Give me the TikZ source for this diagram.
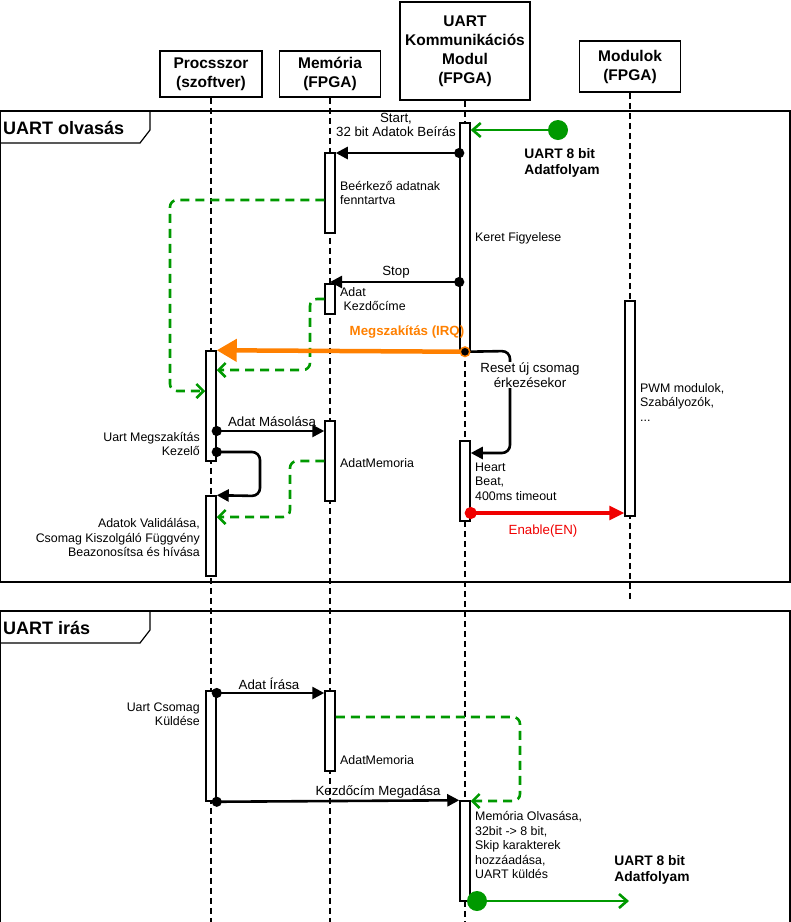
\documentclass[tikz,border=0pt]{standalone}
\usepackage{fontspec}
\setmainfont{Liberation Sans}
\usetikzlibrary{arrows.meta}
\definecolor{flowgreen}{RGB}{0,153,0}
\definecolor{irqorange}{RGB}{255,128,0}
\definecolor{enred}{RGB}{240,0,0}
\newcommand\hdfont{\fontsize{15.5pt}{19pt}\selectfont\bfseries}
\newcommand\msgfont{\fontsize{13.3pt}{14.5pt}\selectfont}
\newcommand\ntfont{\fontsize{12.4pt}{14.5pt}\selectfont}
\newcommand\frfont{\fontsize{18pt}{20pt}\selectfont\bfseries}
\begin{document}
\begin{tikzpicture}[x=1pt,y=-1pt,
        head/.style={draw,fill=white,line width=1.6pt,align=center,font=\hdfont,inner sep=0pt},
        bar/.style={draw,fill=white,line width=1.5pt,minimum width=10pt,inner sep=0pt},
        life/.style={line width=1.6pt,dash pattern=on 6pt off 4pt},
        frame/.style={line width=1.2pt},
        msg/.style={line width=2.6pt,-{Triangle[length=12pt,width=12pt]}},
        dotmsg/.style={line width=2.6pt,{Circle[length=10pt]}-{Triangle[length=12pt,width=12pt]},shorten <=-5pt},
        ret/.style={flowgreen,line width=2.6pt,dash pattern=on 9pt off 6pt,rounded corners=7pt,-{Straight Barb[length=7pt,width=14pt]}},
        async/.style={flowgreen,line width=2.6pt,-{Straight Barb[length=8pt,width=14pt]}},
        irq/.style={irqorange,line width=4.5pt,{Circle[length=11pt,fill=black,line width=1.5pt]}-{Triangle[length=20pt,width=22pt]},shorten <=-5.5pt},
        en/.style={enred,line width=3.2pt,{Circle[length=12pt]}-{Triangle[length=15pt,width=14pt]},shorten <=-6pt},
        srcdot/.style={circle,fill=flowgreen,minimum size=20pt,inner sep=0pt},
        msglbl/.style={font=\msgfont,align=center,inner sep=1pt},
        note/.style={font=\ntfont,align=left,anchor=west,inner sep=0pt},
        noteR/.style={font=\ntfont,align=right,anchor=east,inner sep=0pt},
        boldlbl/.style={font=\fontsize{13.8pt}{16pt}\selectfont\bfseries,align=left,inner sep=0pt},
        frlbl/.style={font=\frfont,anchor=west,inner sep=0pt}]
    \useasboundingbox (0,0) rectangle (791,922);

    \draw[frame]
        (0.6,111) rectangle (790,582);
    \draw[frame]
        (0.6,143) -- (140,143) -- (150,130) -- (150,111);
    \node[frlbl] (fr1) at (3,128) {UART olvasás};
    \draw[frame]
        (0.6,611) rectangle (790,930);
    \draw[frame]
        (0.6,643) -- (140,643) -- (150,630) -- (150,611);
    \node[frlbl] (fr2) at (3,628) {UART irás};

    \node[head,minimum width=102pt,minimum height=46pt] (proc) at (211,74) {Procsszor\\(szoftver)};
    \node[head,minimum width=101pt,minimum height=46pt] (mem) at (330,74) {Memória\\(FPGA)};
    \node[head,minimum width=130pt,minimum height=98pt] (uart) at (465,51) {UART\\Kommunikációs\\Modul\\(FPGA)};
    \node[head,minimum width=101pt,minimum height=51pt] (modl) at (630,66.5) {Modulok\\(FPGA)};
    \draw[life] (proc.south) -- (proc.south |- 0,922);
    \draw[life] (mem.south) -- (mem.south |- 0,922);
    \draw[life] (uart.south) -- (uart.south |- 0,922);
    \draw[life] (modl.south) -- (modl.south |- 0,602);

    \node[bar,minimum height=110pt] (p1) at (211,406) {};
    \node[bar,minimum height=80pt] (p2) at (211,536) {};
    \node[bar,minimum height=110pt] (p3) at (211,746) {};
    \node[bar,minimum height=80pt] (m1) at (330,193) {};
    \node[bar,minimum height=30pt] (m2) at (330,299) {};
    \node[bar,minimum height=80pt] (m3) at (330,461) {};
    \node[bar,minimum height=80pt] (m4) at (330,731) {};
    \node[bar,minimum height=228pt] (u1) at (465,237) {};
    \node[bar,minimum height=80pt] (u2) at (465,481) {};
    \node[bar,minimum height=100pt] (u3) at (465,851) {};
    \node[bar,minimum height=215pt] (d1) at (630,408.5) {};

    \node[srcdot] (src1) at (558,130) {};
    \draw[async] (src1) -- (u1.east |- src1);
    \node[boldlbl] (src1lbl) at (562,163) {UART 8 bit\\Adatfolyam};
    \draw[dotmsg] (u1.west |- 0,153) -- (m1.east |- 0,153);
    \node[msglbl] (lstart) at (396,125) {Start,\\32 bit Adatok Beírás};
    \node[note] (lres) at (340,193) {Beérkező adatnak\\fenntartva};
    \draw[ret]
        (m1.west |- 0,200) -- (170,200) -- (170,391) -- (p1.west |- 0,391);
    \node[note] (lkeret) at (475,238) {Keret Figyelese};
    \draw[dotmsg] (u1.west |- 0,282) -- (mem.south |- 0,282);
    \node[msglbl] (lstop) at (396,272) {Stop};
    \node[note] (lcim) at (340,299) {Adat\\\ Kezdőcíme};
    \draw[ret]
        (m2.west |- 0,299) -- (310,299) -- (310,370) -- (p1.east |- 0,370);
    \draw[msg,rounded corners=8pt]
        (u1.south) -- (510,351) -- (510,453) -- (u2.east |- 0,453);
    \node[msglbl,fill=white] (lreset) at (530,375) {Reset új csomag\\érkezésekor};
    \draw[irq] (u1.south) -- (p1.north east);
    \node[msglbl,text=irqorange,font=\msgfont\bfseries] (lirq) at (407,332) {Megszakítás (IRQ)};
    \node[note] (lheart) at (475,481.5) {Heart\\Beat,\\400ms timeout};
    \draw[en] (u2.east |- 0,513) -- (d1.west |- 0,513);
    \node[msglbl,text=enred] (len) at (543,531) {Enable(EN)};
    \node[note] (lpwm) at (640,402) {PWM modulok,\\Szabályozók,\\...};

    \draw[dotmsg] (p1.east |- 0,431) -- (m3.west |- 0,431);
    \node[msglbl] (lcopy) at (272,422) {Adat Másolása};
    \draw[dotmsg,rounded corners=8pt]
        (p1.east |- 0,452) -- (260,452) -- (260,496) -- (p2.north east);
    \node[noteR] (lisr) at (200,444) {Uart Megszakítás\\Kezelő};
    \draw[ret]
        (m3.west |- 0,461) -- (290,461) -- (290,517) -- (p2.east |- 0,517);
    \node[note] (ladat1) at (340,463) {AdatMemoria};
    \node[noteR] (lvalid) at (200,537.5) {Adatok Validálása,\\Csomag Kiszolgáló Függvény\\Beazonosítsa és hívása};

    \draw[dotmsg] (p3.east |- 0,693) -- (m4.west |- 0,693);
    \node[msglbl] (lwrite) at (269,684) {Adat Írása};
    \node[noteR] (lsend) at (200,714) {Uart Csomag\\Küldése};
    \draw[ret]
        (m4.east |- 0,717) -- (520,717) -- (520,801) -- (u3.east |- 0,801);
    \node[note] (ladat2) at (340,760) {AdatMemoria};
    \draw[dotmsg] (p3.south east) -- (u3.north west);
    \node[msglbl] (laddr) at (378,792) {Kezdőcím Megadása};
    \node[note] (lread) at (475,845) {Memória Olvasása,\\32bit -> 8 bit,\\Skip karakterek\\hozzáadása,\\UART küldés};
    \node[srcdot] (src2) at (477,901) {};
    \coordinate (sink) at (629,901);
    \draw[async] (src2) -- (sink);
    \node[boldlbl] (src2lbl) at (652,870) {UART 8 bit\\Adatfolyam};
\end{tikzpicture}
\end{document}
